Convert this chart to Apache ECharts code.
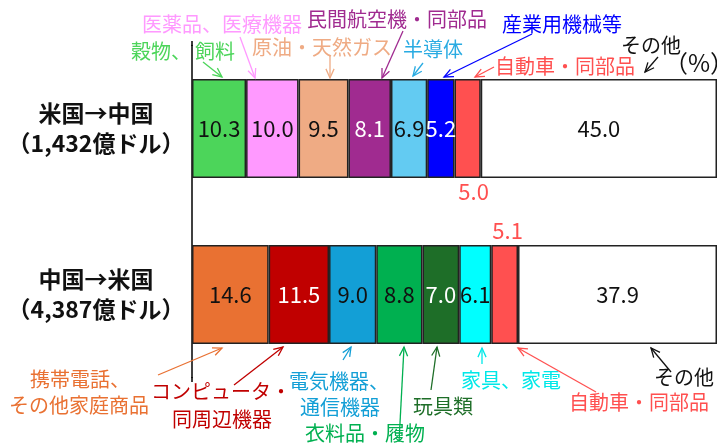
<!DOCTYPE html>
<html><head><meta charset="utf-8">
<script src="https://cdn.jsdelivr.net/npm/echarts@6/dist/echarts.min.js"></script>
<style>html,body{margin:0;padding:0;background:#fff}#c{width:717px;height:443px}</style>
</head><body><div id="c"></div>
<script>
// ---- data ----
var rows = ['米国→中国\n（1,432億ドル）', '中国→米国\n（4,387億ドル）'];
var usToChina = [10.3, 10.0, 9.5, 8.1, 6.9, 5.2, 5.0, 45.0];
var chinaToUs = [14.6, 11.5, 9.0, 8.8, 7.0, 6.1, 5.1, 37.9];
var usToChinaItems = ['穀物、飼料', '医薬品、医療機器', '原油・天然ガス', '民間航空機・同部品', '半導体', '産業用機械等', '自動車・同部品', 'その他'];
var chinaToUsItems = ['携帯電話、その他家庭商品', 'コンピュータ・同周辺機器', '電気機器、通信機器', '衣料品・履物', '玩具類', '家具、家電', '自動車・同部品', 'その他'];

// ---- styles ----
var topColors = ['#4cd55a', '#ff99ff', '#efab84', '#a02b90', '#63cbf2', '#0000ff', '#ff5050', '#ffffff'];
var botColors = ['#e97132', '#c00000', '#139fd6', '#00b050', '#1e6e28', '#00ffff', '#ff5050', '#ffffff'];
var topLabelColors = ['#111', '#111', '#111', '#fff', '#111', '#fff', '#ff5050', '#111'];
var botLabelColors = ['#111', '#fff', '#111', '#111', '#fff', '#111', '#ff5050', '#111'];
var FONT = '"Noto Sans CJK JP", "Noto Sans", sans-serif';

var series = usToChina.map(function (v, i) {
  function item(val, color, lc, pos, off) {
    var lab = { color: lc };
    if (pos) { lab.position = pos; lab.distance = 3; lab.offset = off; }
    return { value: val, itemStyle: { color: color }, label: lab };
  }
  return {
    type: 'bar', stack: 'total', barWidth: 99,
    name: usToChinaItems[i],
    itemStyle: { borderColor: '#222', borderWidth: 1.5 },
    label: {
      show: true, position: 'inside', fontFamily: FONT, fontSize: 22,
      formatter: function (p) { return p.value.toFixed(1); }
    },
    data: [
      item(v, topColors[i], topLabelColors[i], i === 6 ? 'bottom' : null, [6, 0]),
      item(chinaToUs[i], botColors[i], botLabelColors[i], i === 6 ? 'top' : null, [3, 0])
    ]
  };
});

// ---- annotations (layout) ----
var annotations = [
  { t: '医薬品、医療機器', c: '#ff99ff', x: 142, y: 24, a: [240, 37, 255, 78] },
  { t: '民間航空機・同部品', c: '#a02b90', x: 307, y: 19, a: [403, 31, 382, 78] },
  { t: '産業用機械等', c: '#0000ff', x: 502, y: 24, a: [532, 34, 444, 77] },
  { t: '穀物、', c: '#4cd55a', x: 131, y: 51, a: null },
  { t: '飼料', c: '#4cd55a', x: 195, y: 51, a: [203, 62, 222, 77] },
  { t: '原油・天然ガス', c: '#efab84', x: 252, y: 47, a: [330, 56, 330, 78] },
  { t: '半導体', c: '#29abe2', x: 403, y: 49, a: [423, 63, 413, 76] },
  { t: 'その他', c: '#111', x: 621, y: 45, a: [658, 57, 645, 72] },
  { t: '（%）', c: '#111', x: 664, y: 63, a: null, fs: 24 },
  { t: '自動車・同部品', c: '#ff5050', x: 495, y: 66, a: [494, 67, 475, 77] },
  { t: '携帯電話、', c: '#e97132', x: 30, y: 379, a: [158, 375, 222, 348] },
  { t: 'その他家庭商品', c: '#e97132', x: 9, y: 405, a: null },
  { t: 'コンピュータ・', c: '#c00000', x: 151, y: 391, a: [234, 385, 283, 347] },
  { t: '同周辺機器', c: '#c00000', x: 172, y: 419, a: null },
  { t: '電気機器、', c: '#139fd6', x: 289, y: 381, a: [343, 360, 351, 347] },
  { t: '通信機器', c: '#139fd6', x: 300, y: 407, a: null },
  { t: '衣料品・履物', c: '#00b050', x: 305, y: 433, a: [399, 442, 404, 347] },
  { t: '玩具類', c: '#1e6e28', x: 413, y: 406, a: [431, 390, 437, 347] },
  { t: '家具、家電', c: '#00e8e8', x: 461, y: 380, a: [482, 364, 482, 348] },
  { t: 'その他', c: '#111', x: 654, y: 377, a: [671, 372, 651, 348] },
  { t: '自動車・同部品', c: '#ff5050', x: 569, y: 402, a: [596, 392, 518, 348] }
];

function arrow(x1, y1, x2, y2, color) {
  var ang = Math.atan2(y2 - y1, x2 - x1), L = 10, s = 0.42;
  var h1 = [x2 - L * Math.cos(ang - s), y2 - L * Math.sin(ang - s)];
  var h2 = [x2 - L * Math.cos(ang + s), y2 - L * Math.sin(ang + s)];
  return [
    { type: 'polyline', shape: { points: [[x1, y1], [x2, y2]] }, style: { stroke: color, lineWidth: 1.3, fill: null }, z: 10 },
    { type: 'polyline', shape: { points: [h1, [x2, y2], h2] }, style: { stroke: color, lineWidth: 1.3, fill: null }, z: 10 }
  ];
}

var graphics = [];
annotations.forEach(function (a) {
  graphics.push({
    type: 'text', x: a.x, y: a.y, z: 10,
    style: { text: a.t, fill: a.c, font: (a.fs || 20) + 'px ' + FONT, align: 'left', verticalAlign: 'middle' }
  });
  if (a.a) graphics = graphics.concat(arrow(a.a[0], a.a[1], a.a[2], a.a[3], a.c));
});
// axis line extension
graphics.push({ type: 'line', shape: { x1: 192, y1: 41, x2: 192, y2: 46 }, style: { stroke: '#000', lineWidth: 1.5 } });
graphics.push({ type: 'line', shape: { x1: 192, y1: 377, x2: 192, y2: 382 }, style: { stroke: '#000', lineWidth: 1.5 } });

var chart = echarts.init(document.getElementById('c'), null, { renderer: 'canvas' });
chart.setOption({
  animation: false,
  backgroundColor: '#fff',
  textStyle: { fontFamily: FONT },
  grid: { left: 192, width: 529, top: 45.5, height: 332 },
  xAxis: { type: 'value', min: 0, max: 100, show: false },
  yAxis: {
    type: 'category', inverse: true, data: rows,
    axisLine: { show: true, lineStyle: { color: '#000', width: 1.5 } },
    axisTick: { show: false },
    axisLabel: { align: 'center', margin: 96, fontFamily: FONT, fontSize: 23, fontWeight: 'bold', color: '#111', lineHeight: 30 }
  },
  series: series,
  graphic: graphics
});
</script></body></html>
